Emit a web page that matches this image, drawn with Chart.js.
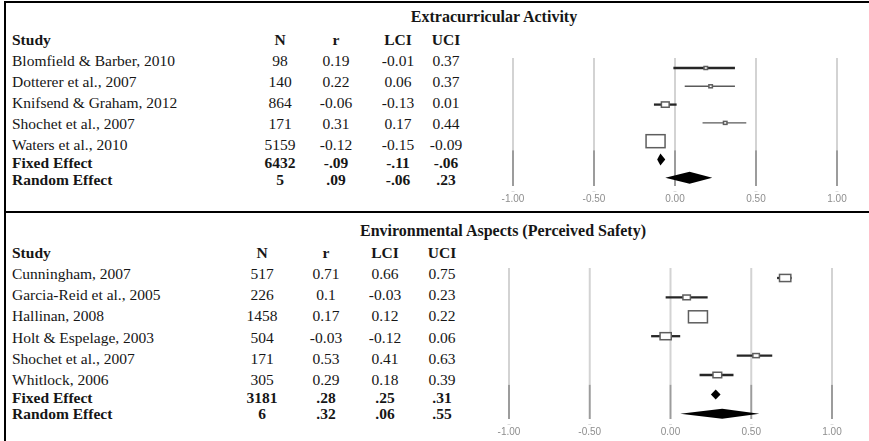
<!DOCTYPE html>
<html><head><meta charset="utf-8">
<script src="https://cdn.jsdelivr.net/npm/chart.js@4.4.1/dist/chart.umd.min.js"></script>
<style>
html,body{margin:0;padding:0;background:#fff;}
#page{position:relative;width:869px;height:441px;overflow:hidden;background:#fff;font-family:"Liberation Serif","Times New Roman",serif;color:#161616;}
.t{position:absolute;white-space:nowrap;line-height:1;font-size:15.5px;transform:translate(-50%,-50%);}
.t.l{transform:translate(0,-50%);}
.t.b{font-weight:bold;}
.t.title{font-size:16px;font-weight:bold;}
.rule{position:absolute;background:#000;}
canvas{position:absolute;}
</style></head>
<body><div id="page">
<div class="rule" style="left:4px;top:1px;width:865px;height:1.5px"></div>
<div class="rule" style="left:4px;top:1px;width:1.5px;height:440px"></div>
<div class="rule" style="left:4px;top:211px;width:865px;height:2px"></div>
<canvas id="c1" width="389" height="160" style="left:480px;top:50px;width:389px;height:160px"></canvas>
<canvas id="c2" width="389" height="181" style="left:480px;top:260px;width:389px;height:181px"></canvas>
</div>
<script>
// ---------- DATA ----------
const tickValues = [-1, -0.5, 0, 0.5, 1];
const columnHeaders = ["Study", "N", "r", "LCI", "UCI"];
const summaryLabels = ["Fixed Effect", "Random Effect"];

const extraTitle = "Extracurricular Activity";
const extraStudies = ["Blomfield & Barber, 2010", "Dotterer et al., 2007", "Knifsend & Graham, 2012", "Shochet et al., 2007", "Waters et al., 2010"];
const extraN   = [98, 140, 864, 171, 5159];
const extraR   = [0.19, 0.22, -0.06, 0.31, -0.12];
const extraLCI = [-0.01, 0.06, -0.13, 0.17, -0.15];
const extraUCI = [0.37, 0.37, 0.01, 0.44, -0.09];
const extraSumN   = [6432, 5];
const extraSumR   = [-0.09, 0.09];
const extraSumLCI = [-0.11, -0.06];
const extraSumUCI = [-0.06, 0.23];

const safetyTitle = "Environmental Aspects (Perceived Safety)";
const safetyStudies = ["Cunningham, 2007", "Garcia-Reid et al., 2005", "Hallinan, 2008", "Holt & Espelage, 2003", "Shochet et al., 2007", "Whitlock, 2006"];
const safetyN   = [517, 226, 1458, 504, 171, 305];
const safetyR   = [0.71, 0.1, 0.17, -0.03, 0.53, 0.29];
const safetyLCI = [0.66, -0.03, 0.12, -0.12, 0.41, 0.18];
const safetyUCI = [0.75, 0.23, 0.22, 0.06, 0.63, 0.39];
const safetySumN   = [3181, 6];
const safetySumR   = [0.28, 0.32];
const safetySumLCI = [0.25, 0.06];
const safetySumUCI = [0.31, 0.55];

// ---------- LAYOUT / STYLE ----------
const panels = [
  {
    data: {title: extraTitle, studies: extraStudies, n: extraN, r: extraR, lci: extraLCI, uci: extraUCI,
           sumN: extraSumN, sumR: extraSumR, sumLCI: extraSumLCI, sumUCI: extraSumUCI},
    titleX: 494, titleY: 17, headerY: 40, rowY0: 61, rowStep: 21, sumY: [163, 180],
    cols: [280, 336, 398, 446], canvas: 'c1',
    pad: {left: 33, right: 32, top: 8, bottom: 4}, yMin: -0.546, yMax: 6.449,
    boxW: 19, boxH: 13, diamondH: 12, thin: ["Dotterer et al., 2007", "Shochet et al., 2007"]
  },
  {
    data: {title: safetyTitle, studies: safetyStudies, n: safetyN, r: safetyR, lci: safetyLCI, uci: safetyUCI,
           sumN: safetySumN, sumR: safetySumR, sumLCI: safetySumLCI, sumUCI: safetySumUCI},
    titleX: 503, titleY: 231, headerY: 253, rowY0: 274, rowStep: 21.2, sumY: [398, 414],
    cols: [262, 326, 385, 442], canvas: 'c2',
    pad: {left: 29, right: 37, top: 8, bottom: 2}, yMin: -0.515, yMax: 7.268,
    boxW: 19, boxH: 12, diamondH: 10, thin: []
  }
];

const page = document.getElementById('page');
function addText(txt, x, y, cls) {
  const s = document.createElement('span');
  s.className = 't ' + (cls || '');
  s.textContent = txt;
  s.style.left = x + 'px';
  s.style.top = y + 'px';
  page.appendChild(s);
}
const fmtStudy = v => String(v);
const fmtSum = v => v.toFixed(2).replace('0.', '.');

panels.forEach(p => {
  const d = p.data;
  addText(d.title, p.titleX, p.titleY, 'title');
  addText(columnHeaders[0], 12, p.headerY, 'l b');
  for (let c = 1; c < columnHeaders.length; c++) addText(columnHeaders[c], p.cols[c - 1], p.headerY, 'b');
  d.studies.forEach((s, i) => {
    const y = p.rowY0 + i * p.rowStep;
    addText(s, 12, y, 'l');
    [d.n[i], d.r[i], d.lci[i], d.uci[i]].forEach((v, c) => addText(fmtStudy(v), p.cols[c], y, ''));
  });
  summaryLabels.forEach((s, j) => {
    const y = p.sumY[j];
    addText(s, 12, y, 'l b');
    addText(String(d.sumN[j]), p.cols[0], y, 'b');
    [d.sumR[j], d.sumLCI[j], d.sumUCI[j]].forEach((v, c) => addText(fmtSum(v), p.cols[c + 1], y, 'b'));
  });

  const nS = d.studies.length;
  const maxN = Math.max(...d.n);
  const datasets = d.studies.map((s, i) => {
    const thin = p.thin.includes(s);
    return {
      label: s,
      data: [{x: d.lci[i], y: i}, {x: d.uci[i], y: i}],
      showLine: true, pointRadius: 0,
      borderColor: thin ? '#5a5a5a' : '#262626',
      borderWidth: thin ? 1.4 : 2.3
    };
  });

  const forest = {
    id: 'forest_' + p.canvas,
    beforeDatasetsDraw(chart) {
      const {ctx, chartArea, scales} = chart;
      const split = (scales.y.getPixelForValue(nS - 1) + scales.y.getPixelForValue(nS)) / 2;
      ctx.save();
      tickValues.forEach(v => {
        const px = scales.x.getPixelForValue(v);
        ctx.lineWidth = 2;
        ctx.strokeStyle = '#d3d3d3';
        ctx.beginPath(); ctx.moveTo(px, chartArea.top); ctx.lineTo(px, split); ctx.stroke();
        ctx.strokeStyle = '#9c9c9c';
        ctx.beginPath(); ctx.moveTo(px, split); ctx.lineTo(px, chartArea.bottom); ctx.stroke();
        ctx.strokeStyle = '#dddddd';
        ctx.lineWidth = 1;
        ctx.beginPath(); ctx.moveTo(px - 1.5, chartArea.bottom + 5.5); ctx.lineTo(px + 1.5, chartArea.bottom + 5.5); ctx.stroke();
      });
      ctx.restore();
    },
    afterDatasetsDraw(chart) {
      const {ctx, scales} = chart;
      ctx.save();
      d.studies.forEach((s, i) => {
        const k = Math.sqrt(d.n[i] / maxN);
        const w = Math.max(3.5, p.boxW * k), h = Math.max(3, p.boxH * k);
        const px = scales.x.getPixelForValue(d.r[i]);
        const py = scales.y.getPixelForValue(i);
        ctx.fillStyle = '#ffffff';
        ctx.strokeStyle = '#5e5e5e';
        ctx.lineWidth = 1.5;
        ctx.fillRect(px - w / 2, py - h / 2, w, h);
        ctx.strokeRect(px - w / 2, py - h / 2, w, h);
      });
      summaryLabels.forEach((s, j) => {
        const py = scales.y.getPixelForValue(nS + j);
        const xl = scales.x.getPixelForValue(d.sumLCI[j]);
        const xr = scales.x.getPixelForValue(d.sumUCI[j]);
        const xc = scales.x.getPixelForValue(d.sumR[j]);
        const hh = p.diamondH / 2;
        ctx.fillStyle = '#000';
        ctx.beginPath();
        ctx.moveTo(xl, py); ctx.lineTo(xc, py - hh); ctx.lineTo(xr, py); ctx.lineTo(xc, py + hh);
        ctx.closePath(); ctx.fill();
      });
      ctx.restore();
    }
  };

  new Chart(document.getElementById(p.canvas), {
    type: 'scatter',
    data: {datasets},
    options: {
      responsive: false, animation: false, events: [],
      layout: {padding: p.pad},
      plugins: {legend: {display: false}, tooltip: {enabled: false}},
      scales: {
        x: {
          type: 'linear', min: -1, max: 1,
          afterBuildTicks: s => { s.ticks = tickValues.map(v => ({value: v})); },
          afterFit: s => { s.height = 20; },
          ticks: {callback: v => Number(v).toFixed(2), color: '#8e8e8e', padding: 7, maxRotation: 0, autoSkip: false,
                  font: {family: 'Liberation Sans', size: 10}},
          grid: {display: false, drawTicks: false},
          border: {display: false}
        },
        y: {type: 'linear', display: false, reverse: true, min: p.yMin, max: p.yMax}
      }
    },
    plugins: [forest]
  });
});
</script>
</body></html>
